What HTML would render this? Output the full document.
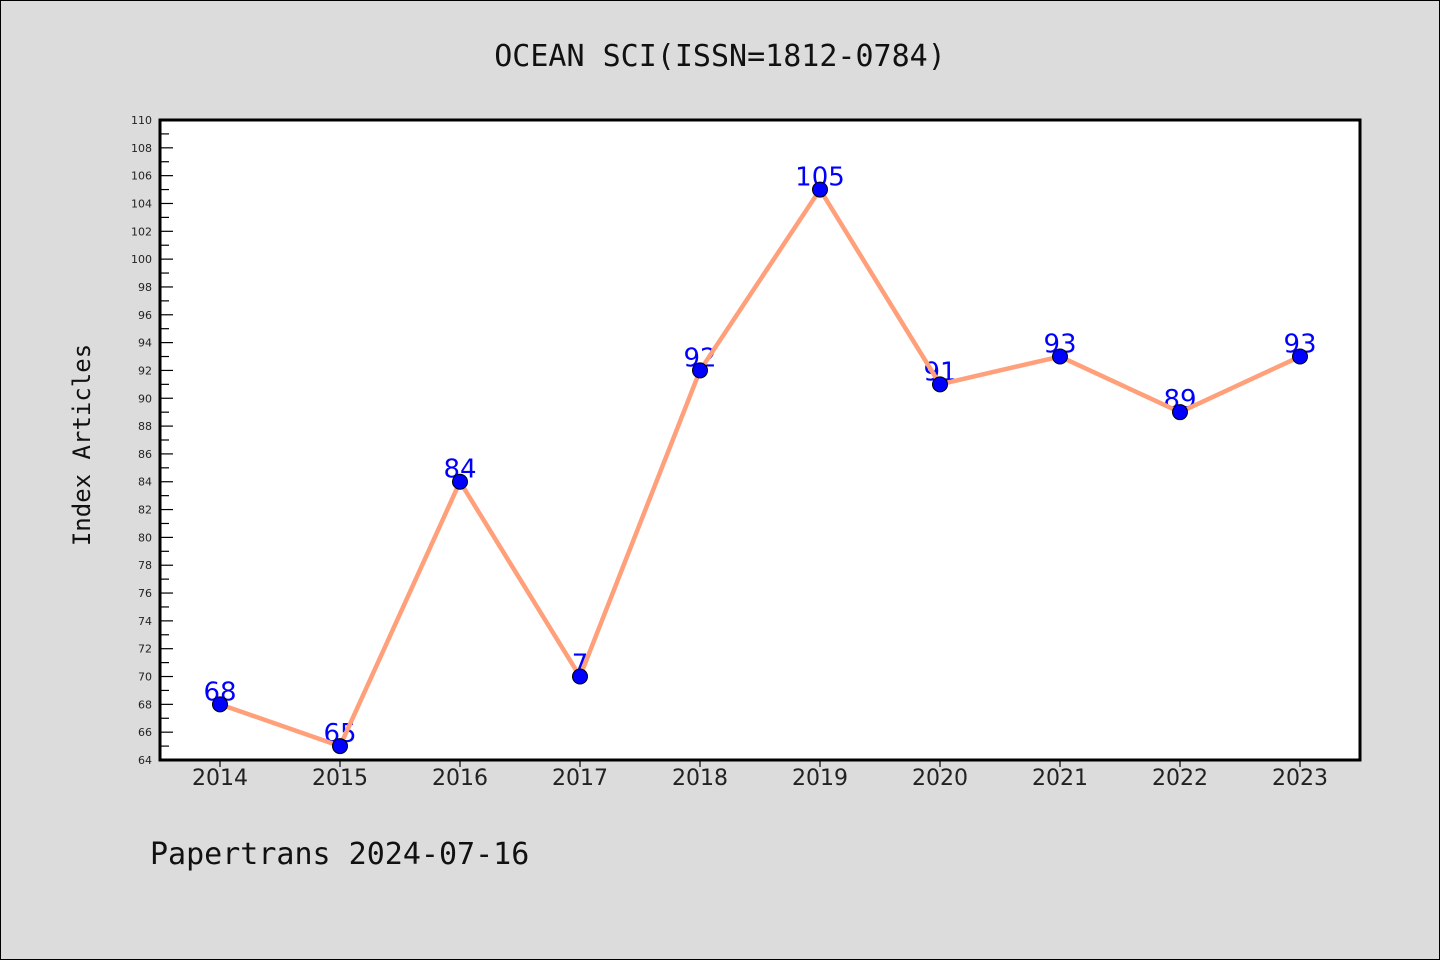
<!DOCTYPE html>
<html><head><meta charset="utf-8"><style>
html,body{margin:0;padding:0}
body{width:1440px;height:960px;background:#dcdcdc;overflow:hidden}
svg{display:block}
</style></head><body>
<svg width="1440" height="960" id="chart">
<rect x="0.5" y="0.5" width="1439" height="959" fill="#dcdcdc" stroke="#000"/>
<text x="720" y="66" text-anchor="middle" font-family="'WenQuanYi Zen Hei Mono','WenQuanYi Zen Hei','DejaVu Sans Mono',monospace" font-size="30" fill="#111">OCEAN SCI(ISSN=1812-0784)</text>
<rect x="160" y="120" width="1200" height="640" fill="#fff"/>
<text transform="translate(90,445) rotate(-90)" text-anchor="middle" font-family="'WenQuanYi Zen Hei Mono','DejaVu Sans Mono',monospace" font-size="24" fill="#111">Index Articles</text>
<text x="150" y="864" font-family="'WenQuanYi Zen Hei Mono','DejaVu Sans Mono',monospace" font-size="30" fill="#111">Papertrans 2024-07-16</text>
<g id="ticks"></g><g id="series"></g>
<rect x="160" y="120" width="1200" height="640" fill="none" stroke="#000" stroke-width="3"/>
</svg>
<script>
const years=["2014","2015","2016","2017","2018","2019","2020","2021","2022","2023"];
const values=[68,65,84,70,92,105,91,93,89,93];
const labels=["68","65","84","7","92","105","91","93","89","93"];
const yMin=64,yMax=110;
const NS="http://www.w3.org/2000/svg";
const X0=220,XS=120,PT=120,PB=760;
function xs(i){return X0+i*XS;}
function ys(v){return PB-(v-yMin)/(yMax-yMin)*(PB-PT);}
function mk(t,a,p){const e=document.createElementNS(NS,t);for(const k in a)e.setAttribute(k,a[k]);p.appendChild(e);return e;}
const tk=document.getElementById('ticks'),sr=document.getElementById('series');
for(let v=yMin;v<=yMax;v++){
  const y=ys(v),major=(v%2===0);
  const l=mk('line',{x1:160,x2:major?173:169,y1:y,y2:y,stroke:'#000','stroke-width':1.2},tk);
  
  
  if(major){const t=mk('text',{x:152,y:y+4,'text-anchor':'end','font-family':'DejaVu Sans,sans-serif','font-size':11,fill:'#222'},tk);t.textContent=v;
  
  }
}
years.forEach((yr,i)=>{
  const x=xs(i);
  const l=mk('line',{x1:x,x2:x,y1:760,y2:767,stroke:'#000','stroke-width':1.2},tk);
  
  
  const t=mk('text',{x:x,y:785,'text-anchor':'middle','font-family':'DejaVu Sans,sans-serif','font-size':22,fill:'#222'},tk);t.textContent=yr;
  
  
});
values.forEach((v,i)=>{
  const t=mk('text',{x:xs(i),y:ys(v)-4,'text-anchor':'middle','font-family':'DejaVu Sans,sans-serif','font-size':26,fill:'#0000ff'},sr);t.textContent=labels[i];
  
  
});
const pl=mk('polyline',{points:values.map((v,i)=>xs(i)+','+ys(v)).join(' '),fill:'none',stroke:'#ffa07a','stroke-width':4.5,'stroke-linejoin':'round'},sr);


values.forEach((v,i)=>{
  const c=mk('circle',{cx:xs(i),cy:ys(v),r:7.5,fill:'#0000ff',stroke:'#000','stroke-width':1},sr);
  
  
});
</script>
</body></html>
